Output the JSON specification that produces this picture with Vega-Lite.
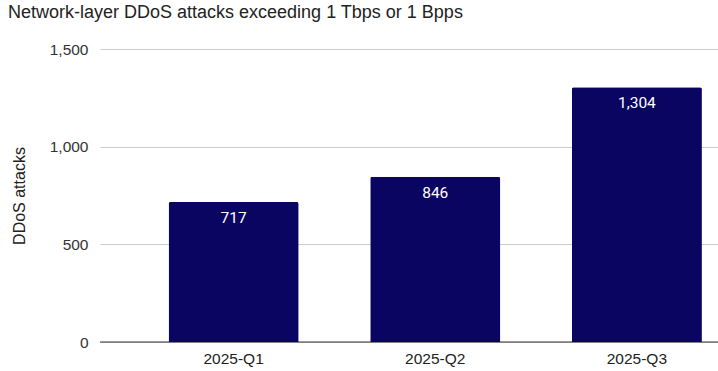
{
  "$schema": "https://vega.github.io/schema/vega-lite/v6.json",
  "autosize": "none",
  "width": 618,
  "height": 293,
  "padding": {"left": 100, "top": 49, "right": 0, "bottom": 29},
  "background": "white",
  "title": {
    "text": "Network-layer DDoS attacks exceeding 1 Tbps or 1 Bpps",
    "anchor": "start",
    "frame": "group",
    "dx": -92,
    "offset": 20,
    "font": "Liberation Sans",
    "fontSize": 18,
    "fontWeight": "normal",
    "color": "#222222"
  },
  "data": {
    "values": [
      {"quarter": "2025-Q1", "attacks": 717},
      {"quarter": "2025-Q2", "attacks": 846},
      {"quarter": "2025-Q3", "attacks": 1304}
    ]
  },
  "encoding": {
    "x": {
      "field": "quarter",
      "type": "nominal",
      "sort": null,
      "scale": {"paddingInner": 0.355, "paddingOuter": 0.21, "align": 0.81},
      "axis": {
        "title": null,
        "labelAngle": 0,
        "labelFont": "Liberation Sans",
        "labelFontSize": 15.5,
        "labelColor": "#222222",
        "labelPadding": 9,
        "ticks": false,
        "domain": false,
        "grid": false
      }
    },
    "y": {
      "field": "attacks",
      "type": "quantitative",
      "scale": {"domain": [0, 1500], "nice": false},
      "axis": {
        "title": "DDoS attacks",
        "titleFont": "Liberation Sans",
        "titleFontSize": 16,
        "titleFontWeight": "normal",
        "titleColor": "#222222",
        "titlePadding": 22,
        "values": [0, 500, 1000, 1500],
        "format": ",d",
        "labelFont": "Liberation Sans",
        "labelFontSize": 15.5,
        "labelColor": "#333333",
        "labelPadding": 12,
        "ticks": false,
        "domain": false,
        "grid": true,
        "gridColor": "#cccccc",
        "gridWidth": 1
      }
    }
  },
  "layer": [
    {
      "mark": {"type": "rule", "color": "#333333", "strokeWidth": 1},
      "data": {"values": [{"base": 0}]},
      "encoding": {"y": {"field": "base", "type": "quantitative"}, "x": {"value": 0}, "x2": {"value": 618}}
    },
    {
      "mark": {"type": "bar", "color": "#0a0561", "cornerRadiusTopLeft": 2, "cornerRadiusTopRight": 2}
    },
    {
      "mark": {"type": "text", "color": "white", "baseline": "middle", "dy": 16, "font": "Roboto", "fontSize": 15.5},
      "encoding": {"text": {"field": "attacks", "type": "quantitative", "format": ",d"}}
    }
  ],
  "config": {"view": {"stroke": null}}
}
